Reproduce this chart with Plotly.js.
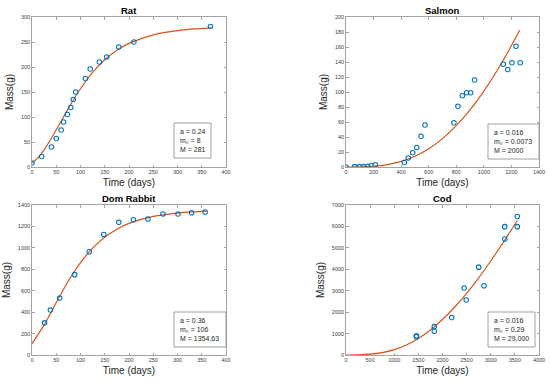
<!DOCTYPE html>
<html><head><meta charset="utf-8">
<script src="https://cdn.plot.ly/plotly-3.0.1.min.js"></script>
<style>html,body{margin:0;padding:0;background:#fff}#c{width:550px;height:383px}</style>
</head><body><div id="c"></div>
<script>
// ---- data ----
const ratT = [0,20,40,50,60,65,73,80,85,90,110,120,139,154,179,210,368];
const ratM = [8,21,40,57,74,90,105,119,135,150,177,196,210,220,240,250,281];
const ratFitT = [0,10,25,50,75,100,125,150,175,200,250,300,370];
const ratFitM = [8,16.3,34.4,74.2,117.3,156.5,189.1,214.4,233.4,247.3,264.4,272.9,278.1];

const salT = [0,63,97,128,157,184,213,423,452,484,513,544,573,783,812,844,875,904,933,1141,1173,1204,1233,1264];
const salM = [0,0.5,0.5,0.5,1,2,3,6,12,19,26,41,56,59,81,95,99,99,116,137,130,139,161,139];
const salFitT = [0,100,200,300,400,500,600,700,800,900,1000,1100,1200,1260];
const salFitM = [0.0073,0.19,1.05,3.25,7.46,14.3,24.3,37.8,55.1,76.1,101.1,129.7,161.9,182.8];

const rabT = [26,38,57,88,118,148,179,209,239,270,301,329,357];
const rabM = [300,419,531,750,963,1125,1238,1263,1269,1316,1316,1328,1334];
const rabFitT = [0,25,50,75,100,125,150,175,200,250,300,360];
const rabFitM = [106,281,490,691,862,997,1099,1174,1228,1293,1325,1342];

const codT = [1460,1460,1830,1830,2190,2450,2490,2750,2860,3290,3290,3550,3550];
const codM = [900,850,1325,1110,1750,3130,2570,4100,3230,5990,5410,6460,5990];
const codFitT = [0,250,500,750,1000,1250,1500,1750,2000,2250,2500,2750,3000,3250,3550];
const codFitM = [0.29,7.3,38.1,113.3,252.2,469,773.2,1168.6,1655,2227.8,2880,3604,4388,5224,6277];

const titles = ["Rat","Salmon","Dom Rabbit","Cod"];
const params = [
  ["a = 0.24","m\u2080 = 8","M = 281"],
  ["a = 0.016","m\u2080 = 0.0073","M = 2000"],
  ["a = 0.36","m\u2080 = 106","M = 1354.63"],
  ["a = 0.016","m\u2080 = 0.29","M = 29,000"]
];
const xRanges = [[0,400],[0,1400],[0,400],[0,4000]];
const xDticks = [50,200,50,500];
const yRanges = [[0,300],[0,200],[0,1400],[0,7000]];
const yDticks = [50,20,200,1000];

// ---- layout helpers (pixel -> paper) ----
const W=550,H=383;
const px = x => x/W, py = y => 1 - y/H;
const boxes = [ // plot area pixel boxes [x0,x1,y0,y1]
  [32,226,17,167],[346,539,17,167],[32,226,205,355],[346,539,205,355]
];
const textBoxes = [
  [174,211,123,158],[488,539,124,159],[174,226,312,347],[488,535,312,347]
];

const blue = '#0072BD', orange = '#D95319';
const series = [[ratT,ratM,ratFitT,ratFitM],[salT,salM,salFitT,salFitM],[rabT,rabM,rabFitT,rabFitM],[codT,codM,codFitT,codFitM]];
const traces = [];
series.forEach((s,i)=>{
  const xa = 'x'+(i?i+1:''), ya = 'y'+(i?i+1:'');
  traces.push({x:s[2],y:s[3],type:'scatter',mode:'lines',line:{color:orange,width:1.2,shape:'spline'},xaxis:xa,yaxis:ya,showlegend:false,hoverinfo:'skip'});
  traces.push({x:s[0],y:s[1],type:'scatter',mode:'markers',marker:{symbol:'circle-open',size:4.5,color:blue,line:{width:1.1,color:blue}},xaxis:xa,yaxis:ya,showlegend:false});
});

const font = 'Liberation Sans, Arial, Helvetica, sans-serif';
const layout = {
  width:W,height:H,margin:{l:0,r:0,t:0,b:0},paper_bgcolor:'#fff',plot_bgcolor:'#fff',
  font:{family:font,color:'#262626'},
  showlegend:false,annotations:[],shapes:[]
};
const axBase = {showline:true,linecolor:'#8c8c8c',linewidth:0.8,mirror:'allticks',ticks:'inside',ticklen:2.5,tickwidth:0.8,tickcolor:'#8c8c8c',
  tickfont:{size:5.5,color:'#404040',family:font},showgrid:false,zeroline:false,fixedrange:true,automargin:false};
boxes.forEach((b,i)=>{
  const n = i?i+1:'';
  layout['xaxis'+n] = Object.assign({},axBase,{domain:[px(b[0]),px(b[1])],range:xRanges[i],dtick:xDticks[i],tick0:0,anchor:'y'+n,
    title:{text:'Time (days)',font:{size:10,color:'#262626'},standoff:4}});
  layout['yaxis'+n] = Object.assign({},axBase,{domain:[py(b[3]),py(b[2])],range:yRanges[i],dtick:yDticks[i],tick0:0,anchor:'x'+n,
    title:{text:'Mass(g)',font:{size:10,color:'#262626'},standoff:5}});
  layout.annotations.push({text:'<b>'+titles[i]+'</b>',xref:'paper',yref:'paper',x:px((b[0]+b[1])/2),y:py(b[2]-7),xanchor:'center',yanchor:'middle',showarrow:false,font:{size:9.5,color:'#000'}});
  const t = textBoxes[i];
  layout.shapes.push({type:'rect',xref:'paper',yref:'paper',x0:px(t[0]),x1:px(t[1]),y0:py(t[3]),y1:py(t[2]),line:{color:'#8c8c8c',width:0.8},fillcolor:'#fff',layer:'above'});
  layout.annotations.push({text:params[i].join('<br>'),xref:'paper',yref:'paper',x:px(t[0]+3.5),y:py((t[2]+t[3])/2),xanchor:'left',yanchor:'middle',align:'left',showarrow:false,font:{size:7,color:'#262626'}});
});
Plotly.newPlot('c',traces,layout,{staticPlot:true,displayModeBar:false});
</script></body></html>
